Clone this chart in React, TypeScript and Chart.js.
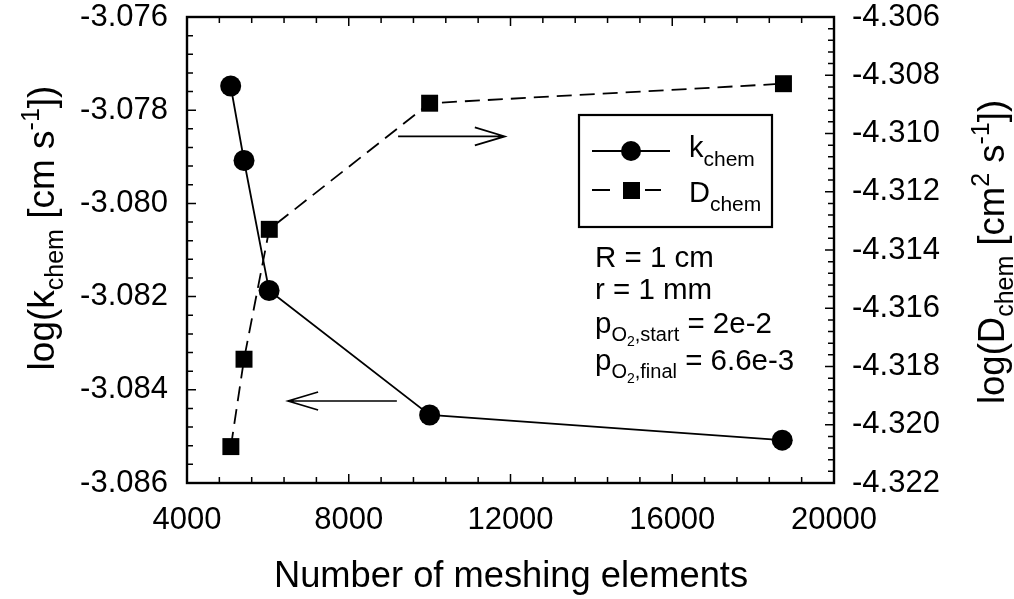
import React, { useEffect, useRef } from "react";
import { Chart, registerables } from "chart.js";

Chart.register(...registerables);

// ---------- data ----------
const xTicks = [4000, 8000, 12000, 16000, 20000];
const leftTicks = [-3.086, -3.084, -3.082, -3.08, -3.078, -3.076];
const rightTicks = [-4.322, -4.32, -4.318, -4.316, -4.314, -4.312, -4.31, -4.308, -4.306];

const kElements = [5080, 5410, 6030, 10000, 18720];
const kChem = [-3.07748, -3.07908, -3.08187, -3.08454, -3.08508];

const dElements = [5085, 5410, 6035, 10000, 18750];
const dChem = [-4.32075, -4.31775, -4.31329, -4.30896, -4.30829];

const xTitle = "Number of meshing elements";
const paramLines = ["R = 1 cm", "r = 1 mm"];
const pStartValue = " = 2e-2";
const pFinalValue = " = 6.6e-3";

// arrows in data coordinates: [xFrom, xTo, y]
const arrowToRight = [9220, 11860, -4.3101];
const arrowToLeft = [9190, 6500, -3.08424];

const FONT = "'Liberation Sans', Arial, Helvetica, sans-serif";

type Seg = { t: string; s: number; dy?: number };

function segWidth(ctx: CanvasRenderingContext2D, segs: Seg[]) {
  let w = 0;
  for (const g of segs) {
    ctx.font = `${g.s}px ${FONT}`;
    w += ctx.measureText(g.t).width;
  }
  return w;
}

function drawRich(ctx: CanvasRenderingContext2D, segs: Seg[], x: number, y: number, align: "left" | "center") {
  const w = segWidth(ctx, segs);
  let cx = align === "center" ? x - w / 2 : x;
  ctx.textAlign = "left";
  ctx.textBaseline = "alphabetic";
  ctx.fillStyle = "#000";
  for (const g of segs) {
    ctx.font = `${g.s}px ${FONT}`;
    ctx.fillText(g.t, cx, y + (g.dy || 0));
    cx += ctx.measureText(g.t).width;
  }
}

function drawArrow(ctx: CanvasRenderingContext2D, x1: number, y1: number, x2: number, y2: number) {
  const dir = Math.sign(x2 - x1);
  ctx.beginPath();
  ctx.moveTo(x1, y1);
  ctx.lineTo(x2, y2);
  ctx.moveTo(x2 - dir * 30, y2 - 9);
  ctx.lineTo(x2, y2);
  ctx.lineTo(x2 - dir * 30, y2 + 9);
  ctx.stroke();
}

const decorPlugin = {
  id: "decor",
  afterDraw(chart: any) {
    const ctx: CanvasRenderingContext2D = chart.ctx;
    const { left, right, top, bottom } = chart.chartArea;
    const xs = chart.scales.x;
    const ys = chart.scales.y;
    const y2s = chart.scales.y2;
    ctx.save();
    ctx.strokeStyle = "#000";
    ctx.lineCap = "butt";

    // ticks (inward, with minors)
    ctx.lineWidth = 1.5;
    ctx.beginPath();
    const xMin = xTicks[0];
    const xStep = (xTicks[1] - xTicks[0]) / 5;
    const nx = (xTicks[xTicks.length - 1] - xMin) / xStep;
    for (let i = 0; i <= nx; i++) {
      const px = xs.getPixelForValue(xMin + i * xStep);
      const len = i % 5 === 0 ? 9 : 6;
      ctx.moveTo(px, bottom);
      ctx.lineTo(px, bottom - len);
      ctx.moveTo(px, top);
      ctx.lineTo(px, top + len);
    }
    const lStep = (leftTicks[1] - leftTicks[0]) / 5;
    const nl = Math.round((leftTicks[leftTicks.length - 1] - leftTicks[0]) / lStep);
    for (let i = 0; i <= nl; i++) {
      const py = ys.getPixelForValue(leftTicks[0] + i * lStep);
      const len = i % 5 === 0 ? 9 : 6;
      ctx.moveTo(left, py);
      ctx.lineTo(left + len, py);
    }
    const rStep = (rightTicks[1] - rightTicks[0]) / 5;
    const nr = Math.round((rightTicks[rightTicks.length - 1] - rightTicks[0]) / rStep);
    for (let i = 0; i <= nr; i++) {
      const py = y2s.getPixelForValue(rightTicks[0] + i * rStep);
      const len = i % 5 === 0 ? 9 : 6;
      ctx.moveTo(right, py);
      ctx.lineTo(right - len, py);
    }
    ctx.stroke();

    // frame
    ctx.lineWidth = 2.4;
    ctx.strokeRect(left, top, right - left, bottom - top);

    // arrows
    ctx.lineWidth = 1.7;
    drawArrow(
      ctx,
      xs.getPixelForValue(arrowToRight[0]),
      y2s.getPixelForValue(arrowToRight[2]),
      xs.getPixelForValue(arrowToRight[1]),
      y2s.getPixelForValue(arrowToRight[2])
    );
    drawArrow(
      ctx,
      xs.getPixelForValue(arrowToLeft[0]),
      ys.getPixelForValue(arrowToLeft[2]),
      xs.getPixelForValue(arrowToLeft[1]),
      ys.getPixelForValue(arrowToLeft[2])
    );

    // legend box
    ctx.lineWidth = 2.2;
    ctx.strokeRect(579, 115, 193, 112);
    // entry 1
    ctx.lineWidth = 1.8;
    ctx.beginPath();
    ctx.moveTo(592, 151);
    ctx.lineTo(670, 151);
    ctx.stroke();
    ctx.fillStyle = "#000";
    ctx.beginPath();
    ctx.arc(631, 151, 10, 0, Math.PI * 2);
    ctx.fill();
    drawRich(ctx, [{ t: "k", s: 29 }, { t: "chem", s: 21, dy: 9 }], 689, 157, "left");
    // entry 2
    ctx.beginPath();
    ctx.moveTo(592, 190);
    ctx.lineTo(610, 190);
    ctx.moveTo(645, 190);
    ctx.lineTo(661, 190);
    ctx.stroke();
    ctx.fillRect(623, 182, 17, 17);
    drawRich(ctx, [{ t: "D", s: 29 }, { t: "chem", s: 21, dy: 9 }], 689, 202, "left");

    // parameter text
    drawRich(ctx, [{ t: paramLines[0], s: 29.5 }], 595, 267, "left");
    drawRich(ctx, [{ t: paramLines[1], s: 29.5 }], 595, 299, "left");
    drawRich(
      ctx,
      [
        { t: "p", s: 29.5 },
        { t: "O", s: 20, dy: 8 },
        { t: "2", s: 14, dy: 13 },
        { t: ",start", s: 20, dy: 8 },
        { t: pStartValue, s: 29.5 },
      ],
      595,
      333,
      "left"
    );
    drawRich(
      ctx,
      [
        { t: "p", s: 29.5 },
        { t: "O", s: 20, dy: 8 },
        { t: "2", s: 14, dy: 13 },
        { t: ",final", s: 20, dy: 8 },
        { t: pFinalValue, s: 29.5 },
      ],
      595,
      370,
      "left"
    );

    // x title
    drawRich(ctx, [{ t: xTitle, s: 36.3 }], 511, 587, "center");

    // left title
    ctx.save();
    ctx.translate(54, 228);
    ctx.rotate(-Math.PI / 2);
    drawRich(
      ctx,
      [
        { t: "log(k", s: 37 },
        { t: "chem", s: 25, dy: 9 },
        { t: " [cm s", s: 37 },
        { t: "-1", s: 25, dy: -15 },
        { t: "])", s: 37 },
      ],
      0,
      0,
      "center"
    );
    ctx.restore();

    // right title
    ctx.save();
    ctx.translate(1004, 252);
    ctx.rotate(-Math.PI / 2);
    drawRich(
      ctx,
      [
        { t: "log(D", s: 36.5 },
        { t: "chem", s: 25, dy: 9 },
        { t: " [cm", s: 36.5 },
        { t: "2", s: 25, dy: -15 },
        { t: " s", s: 36.5 },
        { t: "-1", s: 25, dy: -15 },
        { t: "])", s: 36.5 },
      ],
      0,
      0,
      "center"
    );
    ctx.restore();

    ctx.restore();
  },
};

export default function App() {
  const ref = useRef<HTMLCanvasElement | null>(null);

  useEffect(() => {
    if (!ref.current) return;
    const kData = kElements.map((x, i) => ({ x, y: kChem[i] }));
    const dData = dElements.map((x, i) => ({ x, y: dChem[i] }));
    const tickFont = { family: FONT, size: 31 };

    const chart = new Chart(ref.current, {
      type: "scatter",
      data: {
        datasets: [
          {
            label: "kchem",
            data: kData,
            yAxisID: "y",
            showLine: true,
            borderColor: "#000",
            backgroundColor: "#000",
            borderWidth: 1.8,
            pointStyle: "circle",
            pointRadius: 10.5,
            pointBorderWidth: 0,
            pointBackgroundColor: "#000",
            clip: false,
          },
          {
            label: "Dchem",
            data: dData,
            yAxisID: "y2",
            showLine: true,
            borderColor: "#000",
            backgroundColor: "#000",
            borderWidth: 1.8,
            borderDash: [15, 8],
            pointStyle: "rect",
            pointRadius: 12,
            pointBorderWidth: 0,
            pointBackgroundColor: "#000",
            clip: false,
          },
        ],
      },
      options: {
        responsive: false,
        animation: false,
        events: [],
        layout: { padding: { top: 17, left: 0, right: 0, bottom: 0 } },
        plugins: { legend: { display: false }, tooltip: { enabled: false } },
        scales: {
          x: {
            type: "linear",
            position: "bottom",
            min: xTicks[0],
            max: xTicks[xTicks.length - 1],
            grid: { display: false, drawTicks: false },
            border: { display: false },
            afterBuildTicks: (s: any) => {
              s.ticks = xTicks.map((v) => ({ value: v }));
            },
            afterFit: (s: any) => {
              s.height = 116;
              s.paddingLeft = 0;
              s.paddingRight = 0;
            },
            ticks: {
              font: tickFont,
              color: "#000",
              padding: 19,
              maxRotation: 0,
              autoSkip: false,
              callback: (v: any) => String(v),
            },
          },
          y: {
            type: "linear",
            position: "left",
            min: leftTicks[0],
            max: leftTicks[leftTicks.length - 1],
            grid: { display: false, drawTicks: false },
            border: { display: false },
            afterBuildTicks: (s: any) => {
              s.ticks = leftTicks.map((v) => ({ value: v }));
            },
            afterFit: (s: any) => {
              s.width = 187;
              s.paddingTop = 0;
              s.paddingBottom = 0;
            },
            ticks: {
              font: tickFont,
              color: "#000",
              padding: 19,
              autoSkip: false,
              callback: (v: any) => Number(v).toFixed(3),
            },
          },
          y2: {
            type: "linear",
            position: "right",
            min: rightTicks[0],
            max: rightTicks[rightTicks.length - 1],
            grid: { display: false, drawTicks: false },
            border: { display: false },
            afterBuildTicks: (s: any) => {
              s.ticks = rightTicks.map((v) => ({ value: v }));
            },
            afterFit: (s: any) => {
              s.width = 180;
              s.paddingTop = 0;
              s.paddingBottom = 0;
            },
            ticks: {
              font: tickFont,
              color: "#000",
              padding: 18,
              autoSkip: false,
              callback: (v: any) => Number(v).toFixed(3),
            },
          },
        },
      },
      plugins: [decorPlugin],
    } as any);

    return () => chart.destroy();
  }, []);

  return (
    <div style={{ position: "absolute", left: 0, top: 0, width: 1014, height: 599, background: "#fff" }}>
      <canvas ref={ref} width={1014} height={599} style={{ display: "block" }} />
    </div>
  );
}
